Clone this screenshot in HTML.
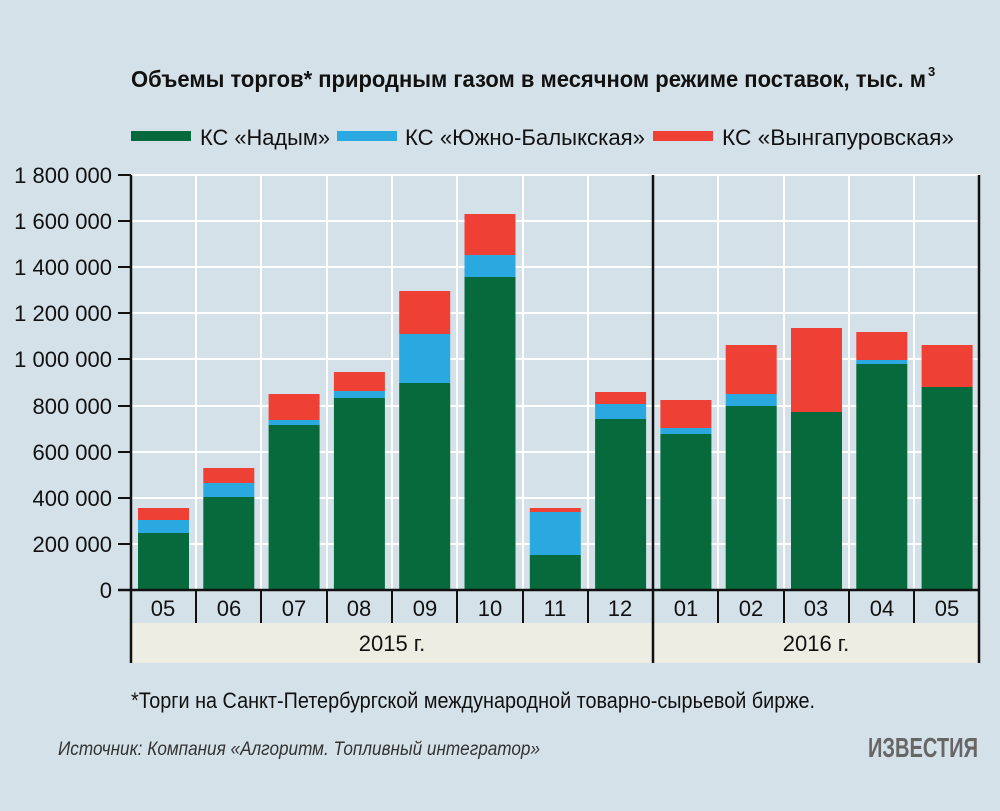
<!DOCTYPE html>
<html><head><meta charset="utf-8"><style>
body{margin:0;background:#d5e1e8;}
svg{display:block;font-family:"Liberation Sans Narrow","Liberation Sans",sans-serif;}
</style></head><body>
<svg width="1000" height="811" viewBox="0 0 1000 811" xmlns="http://www.w3.org/2000/svg">
<rect width="1000" height="811" fill="#d5e1e8"/>
<text x="131" y="87" font-size="23" font-weight="bold" fill="#111" textLength="795" lengthAdjust="spacingAndGlyphs">Объемы торгов* природным газом в месячном режиме поставок, тыс. м</text>
<text x="928" y="76" font-size="13" font-weight="bold" fill="#111">3</text>
<rect x="131" y="131" width="60" height="10" fill="#076a3c"/>
<text x="200" y="145" font-size="22" fill="#111" textLength="130" lengthAdjust="spacingAndGlyphs">КС «Надым»</text>
<rect x="337" y="131" width="60" height="10" fill="#29a9e0"/>
<text x="405" y="145" font-size="22" fill="#111" textLength="240" lengthAdjust="spacingAndGlyphs">КС «Южно-Балыкская»</text>
<rect x="653" y="131" width="60" height="10" fill="#ee4035"/>
<text x="722" y="145" font-size="22" fill="#111" textLength="232" lengthAdjust="spacingAndGlyphs">КС «Вынгапуровская»</text>
<g stroke="#fff" stroke-width="2">
<line x1="131" y1="175" x2="980" y2="175"/><line x1="131" y1="221" x2="980" y2="221"/><line x1="131" y1="267" x2="980" y2="267"/><line x1="131" y1="313" x2="980" y2="313"/><line x1="131" y1="359" x2="980" y2="359"/><line x1="131" y1="406" x2="980" y2="406"/><line x1="131" y1="452" x2="980" y2="452"/><line x1="131" y1="498" x2="980" y2="498"/><line x1="131" y1="544" x2="980" y2="544"/>
<line x1="196" y1="175" x2="196" y2="590"/><line x1="261" y1="175" x2="261" y2="590"/><line x1="327" y1="175" x2="327" y2="590"/><line x1="392" y1="175" x2="392" y2="590"/><line x1="457" y1="175" x2="457" y2="590"/><line x1="523" y1="175" x2="523" y2="590"/><line x1="588" y1="175" x2="588" y2="590"/><line x1="718" y1="175" x2="718" y2="590"/><line x1="784" y1="175" x2="784" y2="590"/><line x1="849" y1="175" x2="849" y2="590"/><line x1="914" y1="175" x2="914" y2="590"/><line x1="979" y1="175" x2="979" y2="590"/>
</g>
<g>
<rect x="138" y="508" width="51" height="12" fill="#ee4035"/><rect x="138" y="520" width="51" height="13" fill="#29a9e0"/><rect x="138" y="533" width="51" height="57" fill="#076a3c"/>
<rect x="203.3" y="468" width="51" height="15" fill="#ee4035"/><rect x="203.3" y="483" width="51" height="14" fill="#29a9e0"/><rect x="203.3" y="497" width="51" height="93" fill="#076a3c"/>
<rect x="268.6" y="394" width="51" height="26" fill="#ee4035"/><rect x="268.6" y="420" width="51" height="5" fill="#29a9e0"/><rect x="268.6" y="425" width="51" height="165" fill="#076a3c"/>
<rect x="333.9" y="372" width="51" height="19" fill="#ee4035"/><rect x="333.9" y="391" width="51" height="7" fill="#29a9e0"/><rect x="333.9" y="398" width="51" height="192" fill="#076a3c"/>
<rect x="399.2" y="291" width="51" height="43" fill="#ee4035"/><rect x="399.2" y="334" width="51" height="49" fill="#29a9e0"/><rect x="399.2" y="383" width="51" height="207" fill="#076a3c"/>
<rect x="464.5" y="214" width="51" height="41" fill="#ee4035"/><rect x="464.5" y="255" width="51" height="22" fill="#29a9e0"/><rect x="464.5" y="277" width="51" height="313" fill="#076a3c"/>
<rect x="529.8" y="508" width="51" height="4" fill="#ee4035"/><rect x="529.8" y="512" width="51" height="43" fill="#29a9e0"/><rect x="529.8" y="555" width="51" height="35" fill="#076a3c"/>
<rect x="595.1" y="392" width="51" height="12" fill="#ee4035"/><rect x="595.1" y="404" width="51" height="15" fill="#29a9e0"/><rect x="595.1" y="419" width="51" height="171" fill="#076a3c"/>
<rect x="660.4" y="400" width="51" height="28" fill="#ee4035"/><rect x="660.4" y="428" width="51" height="6" fill="#29a9e0"/><rect x="660.4" y="434" width="51" height="156" fill="#076a3c"/>
<rect x="725.7" y="345" width="51" height="49" fill="#ee4035"/><rect x="725.7" y="394" width="51" height="12" fill="#29a9e0"/><rect x="725.7" y="406" width="51" height="184" fill="#076a3c"/>
<rect x="791" y="328" width="51" height="84" fill="#ee4035"/><rect x="791" y="412" width="51" height="178" fill="#076a3c"/>
<rect x="856.3" y="332" width="51" height="28" fill="#ee4035"/><rect x="856.3" y="360" width="51" height="4" fill="#29a9e0"/><rect x="856.3" y="364" width="51" height="226" fill="#076a3c"/>
<rect x="921.6" y="345" width="51" height="42" fill="#ee4035"/><rect x="921.6" y="387" width="51" height="203" fill="#076a3c"/>
</g>
<rect x="131" y="623" width="849" height="40" fill="#eeede4"/>
<g stroke="#111" stroke-width="2.5">
<line x1="131" y1="175" x2="131" y2="663"/>
<line x1="653" y1="175" x2="653" y2="663"/>
<line x1="979" y1="175" x2="979" y2="663"/>
<line x1="118" y1="590" x2="980" y2="590"/>
</g>
<g stroke="#111" stroke-width="2">
<line x1="118" y1="175" x2="131" y2="175"/><line x1="118" y1="221" x2="131" y2="221"/><line x1="118" y1="267" x2="131" y2="267"/><line x1="118" y1="313" x2="131" y2="313"/><line x1="118" y1="359" x2="131" y2="359"/><line x1="118" y1="406" x2="131" y2="406"/><line x1="118" y1="452" x2="131" y2="452"/><line x1="118" y1="498" x2="131" y2="498"/><line x1="118" y1="544" x2="131" y2="544"/>
<line x1="196" y1="590" x2="196" y2="623"/><line x1="261" y1="590" x2="261" y2="623"/><line x1="327" y1="590" x2="327" y2="623"/><line x1="392" y1="590" x2="392" y2="623"/><line x1="457" y1="590" x2="457" y2="623"/><line x1="523" y1="590" x2="523" y2="623"/><line x1="588" y1="590" x2="588" y2="623"/><line x1="718" y1="590" x2="718" y2="623"/><line x1="784" y1="590" x2="784" y2="623"/><line x1="849" y1="590" x2="849" y2="623"/><line x1="914" y1="590" x2="914" y2="623"/>
</g>
<g font-size="22" fill="#111" text-anchor="end">
<text x="112" y="183">1 800 000</text><text x="112" y="229">1 600 000</text><text x="112" y="275">1 400 000</text><text x="112" y="321">1 200 000</text><text x="112" y="367">1 000 000</text><text x="112" y="414">800 000</text><text x="112" y="460">600 000</text><text x="112" y="506">400 000</text><text x="112" y="552">200 000</text><text x="112" y="598">0</text>
</g>
<g font-size="22" fill="#111" text-anchor="middle">
<text x="163" y="616">05</text><text x="229" y="616">06</text><text x="294" y="616">07</text><text x="359" y="616">08</text><text x="425" y="616">09</text><text x="490" y="616">10</text><text x="555" y="616">11</text><text x="620" y="616">12</text><text x="686" y="616">01</text><text x="751" y="616">02</text><text x="816" y="616">03</text><text x="882" y="616">04</text><text x="947" y="616">05</text>
<text x="392" y="651">2015 г.</text><text x="816" y="651">2016 г.</text>
</g>
<text x="131" y="708" font-size="22" fill="#111" textLength="684" lengthAdjust="spacingAndGlyphs">*Торги на Санкт-Петербургской международной товарно-сырьевой бирже.</text>
<text x="58" y="755" font-size="19" font-style="italic" fill="#333" textLength="482" lengthAdjust="spacingAndGlyphs">Источник: Компания «Алгоритм. Топливный интегратор»</text>
<text x="978" y="757" font-size="28" font-weight="bold" fill="#666" text-anchor="end" textLength="110" lengthAdjust="spacingAndGlyphs">ИЗВЕСТИЯ</text>
</svg>
</body></html>
